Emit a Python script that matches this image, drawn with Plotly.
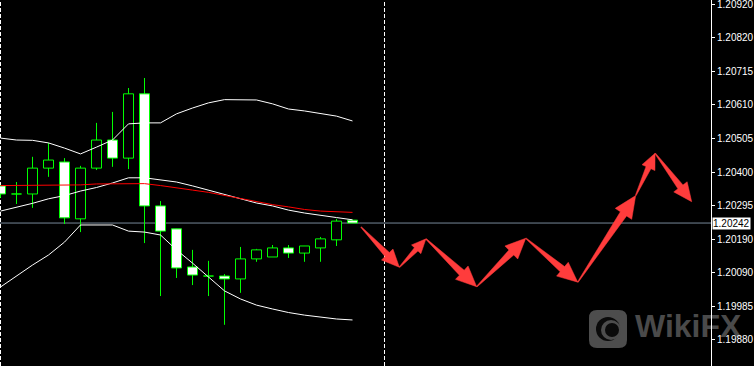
import plotly.graph_objects as go

# ---------------- data (EURUSD H1 style chart) ----------------
bar_index = list(range(23))
open_ = [1.20357, 1.20332, 1.20332, 1.20412, 1.20431, 1.20255, 1.20412, 1.20499,
         1.20443, 1.20642, 1.20295, 1.20224, 1.20106, 1.20078, 1.20078, 1.20069,
         1.20131, 1.20137, 1.20165, 1.20149, 1.20165, 1.20190, 1.20251]
high = [1.20360, 1.20369, 1.20447, 1.20490, 1.20443, 1.20419, 1.20552, 1.20586,
        1.20660, 1.20691, 1.20310, 1.20224, 1.20159, 1.20125, 1.20084, 1.20168,
        1.20162, 1.20174, 1.20174, 1.20171, 1.20199, 1.20255, 1.20252]
low = [1.20320, 1.20301, 1.20289, 1.20385, 1.20239, 1.20214, 1.20406, 1.20416,
       1.20409, 1.20180, 1.20016, 1.20072, 1.20050, 1.20016, 1.19927, 1.20026,
       1.20122, 1.20137, 1.20134, 1.20122, 1.20122, 1.20171, 1.20242]
close = [1.20332, 1.20332, 1.20412, 1.20437, 1.20258, 1.20412, 1.20499, 1.20443,
         1.20642, 1.20295, 1.20217, 1.20103, 1.20081, 1.20078, 1.20069, 1.20131,
         1.20159, 1.20165, 1.20149, 1.20171, 1.20193, 1.20248, 1.20242]

bb_upper = [1.20505, 1.20499, 1.20498, 1.20490, 1.20474, 1.20456, 1.20477, 1.20499,
            1.20549, 1.20552, 1.20552, 1.20580, 1.20598, 1.20614, 1.20624, 1.20624,
            1.20623, 1.20611, 1.20595, 1.20589, 1.20580, 1.20573, 1.20558]
bb_middle = [1.20279, 1.20290, 1.20303, 1.20317, 1.20327, 1.20341, 1.20352, 1.20366,
             1.20382, 1.20382, 1.20375, 1.20369, 1.20357, 1.20344, 1.20329, 1.20317,
             1.20304, 1.20295, 1.20282, 1.20273, 1.20267, 1.20259, 1.20252]
bb_lower = [1.20044, 1.20078, 1.20112, 1.20143, 1.20183, 1.20236, 1.20236, 1.20236,
            1.20217, 1.20214, 1.20205, 1.20159, 1.20118, 1.20075, 1.20032, 1.20007,
            1.19988, 1.19976, 1.19965, 1.19957, 1.19950, 1.19945, 1.19942]
ma_red = [1.20358, 1.20358, 1.20358, 1.20360, 1.20360, 1.20360, 1.20363, 1.20363,
          1.20364, 1.20364, 1.20358, 1.20352, 1.20344, 1.20337, 1.20327, 1.20318,
          1.20307, 1.20299, 1.20292, 1.20284, 1.20279, 1.20278, 1.20275]

# forecast path drawn with arrows (bar index, price)
fc_x = [22.53, 24.93, 26.59, 29.76, 32.83, 36.08, 39.70, 40.91, 43.20]
fc_y = [1.20230, 1.20105, 1.20193, 1.20045, 1.20195, 1.20059, 1.20327, 1.20458, 1.20308]

current_price = 1.20242
separators = [0, 24]

tick_vals = [1.20920, 1.20816, 1.20712, 1.20608, 1.20504, 1.20400, 1.20296,
             1.20192, 1.20088, 1.19984, 1.19880]
tick_text = ["1.20920", "1.20820", "1.20715", "1.20610", "1.20505", "1.20400",
             "1.20295", "1.20190", "1.20090", "1.19985", "1.19880"]

# ---------------- geometry ----------------
W, H = 754, 366
MR = 43
PW, PH = W - MR, H
X0, X1 = -0.03125, 44.40625
Y0, Y1 = 1.197995, 1.209324


def to_px(i, p):
    return ((i - X0) / (X1 - X0) * PW, (Y1 - p) / (Y1 - Y0) * PH)


def to_data(x, y):
    return (X0 + x / PW * (X1 - X0), Y1 - y / PH * (Y1 - Y0))


GREEN = "#00ff00"
RED_ARROW = "#ff3c3c"
half = 5 / 16.0

fig = go.Figure()

# wicks
wx, wy = [], []
for i, hi, lo in zip(bar_index, high, low):
    wx += [i, i, None]
    wy += [hi, lo, None]
fig.add_trace(go.Scatter(x=wx, y=wy, mode="lines",
                         line=dict(color=GREEN, width=1), hoverinfo="skip"))

# bodies
for bull in (True, False):
    bx, by = [], []
    for i, o, c in zip(bar_index, open_, close):
        if (c >= o) != bull:
            continue
        lo_b, hi_b = min(o, c), max(o, c)
        bx += [i - half, i + half, i + half, i - half, i - half, None]
        by += [lo_b, lo_b, hi_b, hi_b, lo_b, None]
    fig.add_trace(go.Scatter(x=bx, y=by, mode="lines", fill="toself",
                             fillcolor="#000000" if bull else "#ffffff",
                             line=dict(color=GREEN, width=1), hoverinfo="skip"))

# indicator lines
for series, col in ((bb_upper, "#ffffff"), (bb_middle, "#ffffff"),
                    (bb_lower, "#ffffff"), (ma_red, "#ff0000")):
    fig.add_trace(go.Scatter(x=bar_index, y=series, mode="lines",
                             line=dict(color=col, width=1), hoverinfo="skip"))

# arrows (tapered shaft + head), computed in pixel space
ax, ay = [], []
for k in range(len(fc_x) - 1):
    tx, ty = to_px(fc_x[k], fc_y[k])
    hx, hy = to_px(fc_x[k + 1], fc_y[k + 1])
    dx, dy = hx - tx, hy - ty
    L = (dx * dx + dy * dy) ** 0.5
    ux, uy = dx / L, dy / L
    nx, ny = -uy, ux
    hl = min(22.0, 0.2 * L + 6.5)
    hw = hl * 0.45
    sw = hl * 0.17
    bx_, by_ = hx - ux * hl, hy - uy * hl
    pts = [(tx + nx * 0.4, ty + ny * 0.4),
           (bx_ + nx * sw, by_ + ny * sw),
           (bx_ + nx * hw, by_ + ny * hw),
           (hx, hy),
           (bx_ - nx * hw, by_ - ny * hw),
           (bx_ - nx * sw, by_ - ny * sw),
           (tx - nx * 0.4, ty - ny * 0.4)]
    for (px_, py_) in pts:
        dxv, dyv = to_data(px_, py_)
        ax.append(dxv)
        ay.append(dyv)
    ax.append(None)
    ay.append(None)
fig.add_trace(go.Scatter(x=ax, y=ay, mode="lines", fill="toself",
                         fillcolor=RED_ARROW, line=dict(color=RED_ARROW, width=0.5),
                         hoverinfo="skip"))

# watermark text (drawn as trace so axis labels stay on top)
wm_x, wm_y = to_data(635, 329)
fig.add_trace(go.Scatter(x=[wm_x], y=[wm_y], mode="text", text=["WikiFX"],
                         textposition="middle right", cliponaxis=False,
                         textfont=dict(family="Liberation Sans", size=32,
                                       color="#4a4a4a", weight="bold"),
                         hoverinfo="skip"))

shapes = []
# price line
shapes.append(dict(type="line", xref="paper", x0=0, x1=1, yref="y",
                   y0=current_price, y1=current_price,
                   line=dict(color="#778899", width=1), layer="below"))
# period separators
for s in separators:
    shapes.append(dict(type="line", xref="x", x0=s, x1=s, yref="paper", y0=0, y1=1,
                       line=dict(color="#ffffff", width=1, dash="4px,2px"),
                       layer="below"))


# watermark icon
def rrect(x0, y0, x1, y1, r):
    def P(x, y):
        d = to_data(x, y)
        return f"{d[0]},{d[1]}"
    path = f"M {P(x0 + r, y0)} L {P(x1 - r, y0)} Q {P(x1, y0)} {P(x1, y0 + r)} "
    path += f"L {P(x1, y1 - r)} Q {P(x1, y1)} {P(x1 - r, y1)} "
    path += f"L {P(x0 + r, y1)} Q {P(x0, y1)} {P(x0, y1 - r)} "
    path += f"L {P(x0, y0 + r)} Q {P(x0, y0)} {P(x0 + r, y0)} Z"
    return path


shapes.append(dict(type="path", path=rrect(589, 310, 627, 348, 8), xref="x", yref="y",
                   fillcolor="#4d4d4d", line=dict(width=0), layer="below"))
cx0, cy0 = to_data(596, 317)
cx1, cy1 = to_data(620, 341)
shapes.append(dict(type="circle", xref="x", yref="y", x0=cx0, x1=cx1, y0=cy1, y1=cy0,
                   fillcolor="#0a0a0a", line=dict(width=0), layer="below"))
ex0, ey0 = to_data(601, 320)
ex1, ey1 = to_data(621, 340)
shapes.append(dict(type="circle", xref="x", yref="y", x0=ex0, x1=ex1, y0=ey1, y1=ey0,
                   fillcolor="#4d4d4d", line=dict(width=0), layer="below"))
fx0, fy0 = to_data(605, 323)
fx1, fy1 = to_data(619, 337)
shapes.append(dict(type="circle", xref="x", yref="y", x0=fx0, x1=fx1, y0=fy1, y1=fy0,
                   fillcolor="#0a0a0a", line=dict(width=0), layer="below"))

fig.update_layout(
    width=W, height=H,
    margin=dict(l=0, r=MR, t=0, b=0),
    paper_bgcolor="#000000", plot_bgcolor="#000000",
    showlegend=False,
    shapes=shapes,
    xaxis=dict(range=[X0, X1], visible=False, fixedrange=True),
    yaxis=dict(range=[Y0, Y1], side="right", tickvals=tick_vals, ticktext=tick_text,
               ticks="outside", ticklen=3, tickcolor="#ffffff", showline=True,
               linecolor="#ffffff", linewidth=1, showgrid=False, zeroline=False,
               ticklabeloverflow="allow",
               tickfont=dict(family="Liberation Sans", size=10, color="#ffffff"),
               fixedrange=True),
    annotations=[dict(xref="paper", x=1, xanchor="left", xshift=1, yref="y",
                      y=current_price, text="1.20242", showarrow=False,
                      bgcolor="#ffffff", borderpad=0,
                      font=dict(family="Liberation Sans", size=10, color="#000000"))],
)

fig.write_html("out.html")
